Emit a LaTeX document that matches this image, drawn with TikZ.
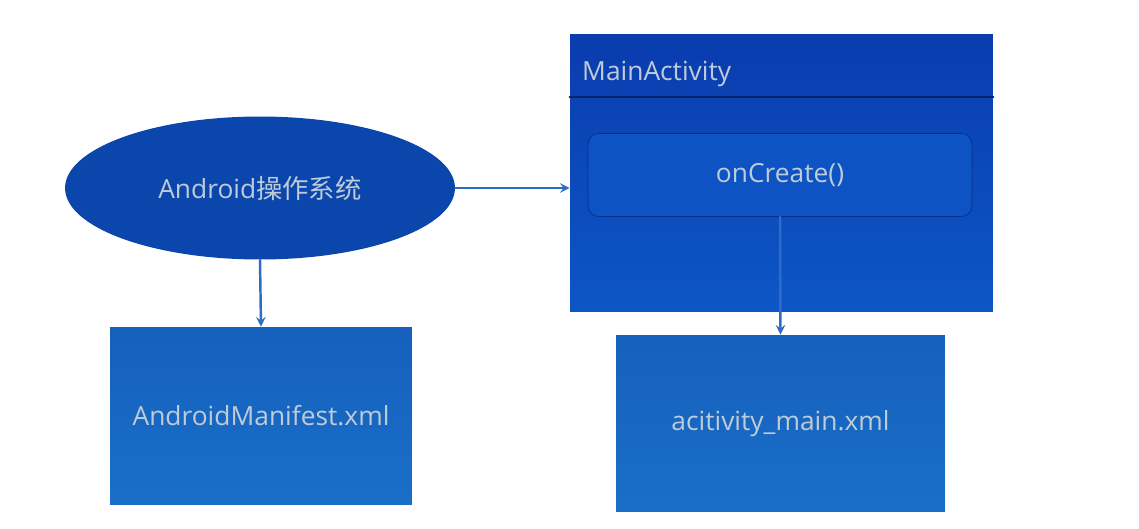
\documentclass[tikz,border=0pt]{standalone}
\usepackage{fontspec}
\setmainfont{Open Sans}
\newfontfamily\cjk{Noto Sans CJK SC}
\usetikzlibrary{shapes.geometric,arrows}
\definecolor{osblue}{HTML}{0B46AD}
\definecolor{boxtop}{HTML}{0A3CAE}
\definecolor{boxbot}{HTML}{0D56C6}
\definecolor{filetop}{HTML}{1560BC}
\definecolor{filebot}{HTML}{1A6FC8}
\definecolor{labelgray}{HTML}{BFCBD8}
\definecolor{linkblue}{HTML}{2E6DC6}
\tikzset{
	label text/.style={text=labelgray,font=\fontsize{15}{18}\selectfont},
	filebox/.style={rectangle,top color=filetop,bottom color=filebot,draw=none,label text}
}
\begin{document}
\begin{tikzpicture}[
	x=0.02cm,y=-0.02cm,
	>=stealth,
	line cap=round,
	line join=round
	]
	\useasboundingbox[fill=white] (0,0) rectangle (1139,528);
	% operating system
	\node[ellipse,fill=osblue,minimum width=7.8cm,minimum height=2.86cm,label text] (os) at (260,188) {Android{\cjk 操作系统}};
	% activity class
	\node[rectangle,top color=boxtop,bottom color=boxbot,minimum width=8.46cm,minimum height=5.56cm] (main) at (781.5,173) {};
	\draw[boxtop!60!black,line width=1.2pt] ([yshift=-1.26cm]main.north west) -- ([yshift=-1.26cm]main.north east);
	\node[anchor=west,label text] (title) at (576,74) {MainActivity};
	\node[rectangle,rounded corners=6pt,fill=boxbot!90!boxtop,draw=boxtop!80!black,minimum width=7.68cm,minimum height=1.66cm,label text] (create) at (780,175) {onCreate()};
	% xml files
	\node[filebox,minimum width=6.04cm,minimum height=3.56cm] (manifest) at (261,416) {AndroidManifest.xml};
	\node[filebox,minimum width=6.58cm,minimum height=3.54cm] (layout) at (780.5,423.5) {acitivity\_main.xml};
	\begin{scope}[->,draw=linkblue,line width=1.4pt]
		\draw (os.east) -- (os.east -| main.west);
		\draw (os.south) -- (manifest.north);
		\draw (create.south) -- (layout.north);
	\end{scope}
\end{tikzpicture}
\end{document}
